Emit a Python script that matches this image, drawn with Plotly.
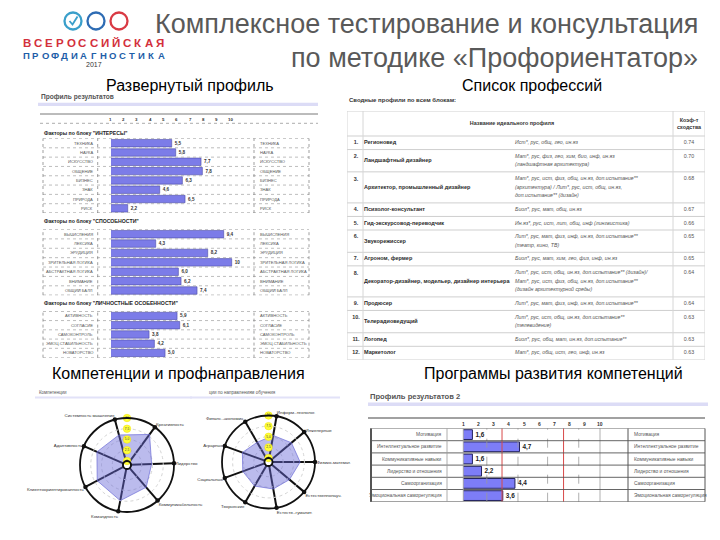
import numpy as np
import plotly.graph_objects as go

# The page body has an 8px margin, so the figure is drawn 712x532 and coordinates
# below are given in window pixels (720x540) and converted.
OFF = 8
W, H = 720 - OFF, 540 - OFF
FONT = "Liberation Sans, Arial, sans-serif"


def X(px):
    return (px - OFF) / W


def Y(py):
    return 1 - (py - OFF) / H


# ---------------- DATA ----------------
interest_labels = ["ТЕХНИКА", "НАУКА", "ИСКУССТВО", "ОБЩЕНИЕ", "БИЗНЕС", "ЗНАК", "ПРИРОДА", "РИСК"]
interest_values = [5.5, 5.8, 7.7, 7.8, 6.3, 4.6, 6.5, 2.2]
ability_labels = ["ВЫЧИСЛЕНИЯ", "ЛЕКСИКА", "ЭРУДИЦИЯ", "ЗРИТЕЛЬНАЯ ЛОГИКА", "АБСТРАКТНАЯ ЛОГИКА", "ВНИМАНИЕ", "ОБЩИЙ БАЛЛ"]
ability_values = [9.4, 4.3, 8.2, 10, 6.0, 6.2, 7.4]
personal_labels = ["АКТИВНОСТЬ", "СОГЛАСИЕ", "САМОКОНТРОЛЬ", "ЭМОЦ.СТАБИЛЬНОСТЬ", "НОВАТОРСТВО"]
personal_values = [5.9, 6.1, 3.8, 4.2, 5.0]
scale_ticks = [1, 2, 3, 4, 5, 6, 7, 8, 9, 10]

prof_nums = ["1.", "2.", "3.", "4.", "5.", "6.", "7.", "8.", "9.", "10.", "11.", "12."]
prof_names = ["Регионовед", "Ландшафтный дизайнер", "Архитектор, промышленный дизайнер",
              "Психолог-консультант", "Гид-экскурсовод-переводчик", "Звукорежиссер",
              "Агроном, фермер", "Декоратор-дизайнер, модельер, дизайнер интерьера",
              "Продюсер", "Телерадиоведущий", "Логопед", "Маркетолог"]
prof_subjects = [
    "Ист*, рус, общ, гео, ин.яз",
    "Мат*, рус, физ, гео, хим, био, инф, ин.яз\n(ландшафтная архитектура)",
    "Мат*, рус, ист, физ, общ, ин.яз, доп.испытание**\n(архитектура) / Лит*, рус, ист, общ, ин.яз,\nдоп.испытание** (дизайн)",
    "Биол*, рус, мат, общ, ин.яз",
    "Ин.яз*, рус, ист, лит, общ, инф (лингвистика)",
    "Лит*, рус, мат, физ, инф, ин.яз, доп.испытание**\n(театр, кино, ТВ)",
    "Биол*, рус, мат, хим, гео, физ, инф, ин.яз",
    "Лит*, рус, ист, общ, ин.яз, доп.испытание** (дизайн)/\nМат*, рус, ист, физ, общ, ин.яз, доп.испытание**\n(дизайн архитектурной среды)",
    "Лит*, рус, мат, физ, инф, ин.яз, доп.испытание**",
    "Лит*, рус, ист, общ, ин.яз, доп.испытание**\n(телевидение)",
    "Биол*, рус, общ, мат, ин.яз, доп.испытание**",
    "Мат*, рус, общ, ист, гео, инф, ин.яз",
]
prof_coefs = [0.74, 0.70, 0.68, 0.67, 0.66, 0.65, 0.65, 0.64, 0.64, 0.63, 0.63, 0.63]

comp_labels = ["Системность мышления", "Креативность", "Лидерство", "Коммуникабельность",
               "Командность", "Клиентоориентированность", "Адаптивность"]
comp_values = [6.3, 7.9, 4.8, 5.9, 7.5, 6.9, 6.7]
dir_labels = ["Информ.-технолог.", "Инженерные", "Физико-математ.", "Естественнонауч.",
              "Естеств.-гуманит.", "Творческие", "Социальные", "Аграрные", "Финанс.-экономич."]
dir_values = [5.4, 6.1, 6.5, 5.5, 5.5, 5.6, 5.5, 5.6, 4.4]
radar_scale_values = [10, 7.5, 5, 2.5, 0]
radar_scale_labels = ["10", "7,5", "5,0", "2,5", "0"]

dev_labels = ["Мотивация", "Интеллектуальное развитие", "Коммуникативные навыки",
              "Лидерство и отношения", "Самоорганизация", "Эмоциональная саморегуляция"]
dev_values = [1.6, 4.7, 1.6, 2.2, 4.4, 3.6]
dev_dashed = [2.55, 4.6, 6.55, 8.6]
dev_red = [3.55, 7.6]
dev_solid = [10]


def fmt(v):
    if float(v).is_integer() and v >= 10:
        return str(int(v))
    return f"{v:.1f}".replace(".", ",")


annotations = []
shapes = []


def ann(x, y, text, size, color="#333", xanchor="center", xref="paper", yref="paper",
        yanchor="middle", xshift=0):
    annotations.append(dict(x=x, y=y, xref=xref, yref=yref, text=text, showarrow=False,
                            xanchor=xanchor, yanchor=yanchor, xshift=xshift,
                            font=dict(family=FONT, size=size, color=color)))


def hline(x0, x1, y, color, width=1, dash="solid", yref="paper"):
    shapes.append(dict(type="line", xref="paper", yref=yref, x0=X(x0), x1=X(x1), y0=y, y1=y,
                       line=dict(color=color, width=width, dash=dash)))


def vline(x, yref, color, width=1, dash="solid", y0=0, y1=1, xref="paper"):
    shapes.append(dict(type="line", xref=xref, yref=yref, x0=x, x1=x, y0=y0, y1=y1,
                       line=dict(color=color, width=width, dash=dash)))


def rect(x0, x1, y0, y1, fill):
    shapes.append(dict(type="rect", xref="paper", yref="paper", x0=X(x0), x1=X(x1),
                       y0=Y(y1), y1=Y(y0), fillcolor=fill, line=dict(width=0), layer="below"))


fig = go.Figure()
axes = {}

# ---------------- Header / logo ----------------
ann(X(700), Y(24), "Комплексное тестирование и консультация", 27, "#595959", "right")
ann(X(700), Y(58), "по методике «Профориентатор»", 27, "#595959", "right")

for cx, col in [(73, "#3a9fca"), (96, "#2e6cb4"), (119, "#d93a44")]:
    shapes.append(dict(type="circle", xref="paper", yref="paper", x0=X(cx - 8.5), x1=X(cx + 8.5),
                       y0=Y(29.5), y1=Y(12.5), line=dict(color=col, width=2.3)))
shapes.append(dict(type="path", xref="paper", yref="paper",
                   path=f"M {X(69.5)},{Y(21)} L {X(72.5)},{Y(24.5)} L {X(77.5)},{Y(16.5)}",
                   line=dict(color="#3a9fca", width=1.8)))
w1 = "ВСЕРОССИЙСКАЯ"
for i, ch in enumerate(w1):
    ann(X(27 + i * (160 - 27) / (len(w1) - 1)), Y(43), f"<b>{ch}</b>", 11.5, "#d3303c")
w2 = "ПРОФДИАГНОСТИКА"
for i, ch in enumerate(w2):
    ann(X(26 + i * (161 - 26) / (len(w2) - 1)), Y(55), f"<b>{ch}</b>", 9.5, "#1d5ea8")
ann(X(94), Y(64), "2017", 7, "#333")

# section headings
ann(X(190), Y(86), "Развернутый профиль", 16, "#000")
ann(X(532), Y(86), "Список профессий", 16, "#000")
ann(X(178), Y(373), "Компетенции и профнаправления", 16, "#000")
ann(X(553), Y(373), "Программы развития компетенций", 16, "#000")

# ---------------- Top-left: Профиль результатов ----------------
ann(X(39), Y(97), "<b>Профиль результатов</b>", 6.6, "#555", "left")
rect(38, 318, 102.7, 106, "#dcdcf6")
hline(40, 318, Y(114), "#555", 0.8)
hline(40, 318, Y(123.3), "#888", 0.7, "dot")

V0, VS = 98.4, 13.33
BX0, BX1 = 111, 254
blocks = [
    dict(labels=interest_labels, values=interest_values, title='Факторы по блоку "ИНТЕРЕСЫ"',
         top=138.5, bottom=213.0, head=132.7),
    dict(labels=ability_labels, values=ability_values, title='Факторы по блоку "СПОСОБНОСТИ"',
         top=229.5, bottom=295.2, head=221.0),
    dict(labels=personal_labels, values=personal_values,
         title='Факторы по блоку "ЛИЧНОСТНЫЕ ОСОБЕННОСТИ"', top=311.3, bottom=357.6, head=303.3),
]
for i, b in enumerate(blocks, start=1):
    sfx = "" if i == 1 else str(i)
    xa, ya = "x" + sfx, "y" + sfx
    n = len(b["labels"])
    fig.add_trace(go.Bar(x=b["values"], y=b["labels"], orientation="h", xaxis=xa, yaxis=ya,
                         marker=dict(color="#7c7ce8", line=dict(color="#4b4ba8", width=0.6)),
                         text=[fmt(v) for v in b["values"]], texttemplate="<b>%{text}</b>",
                         textposition="outside", constraintext="none", cliponaxis=False,
                         textfont=dict(size=4.6, color="#333", family=FONT),
                         width=0.8, hoverinfo="skip"))
    axes["xaxis" + sfx] = dict(domain=[X(BX0), X(BX1)], range=[(BX0 - V0) / VS, (BX1 - V0) / VS],
                               visible=False, anchor=ya, fixedrange=True)
    axes["yaxis" + sfx] = dict(domain=[Y(b["bottom"]), Y(b["top"])], range=[n - 0.5, -0.5],
                               type="category", categoryorder="array", categoryarray=b["labels"],
                               visible=False, anchor=xa, fixedrange=True)
    for k in range(n + 1):
        edge = k in (0, n)
        hline(43, 309, k - 0.5, "#666" if edge else "#a0a0a0", 0.7, "dot", yref=ya)
    for vx in [43, 97.7, 254, 309]:
        vline(X(vx), ya + " domain", "#777", 0.7, "dot")
    for lab in b["labels"]:
        ann(X(95), lab, lab, 4.1, "#555", "right", yref=ya)
        ann(X(257.5), lab, lab, 4.1, "#555", "left", yref=ya)
    ann(X(42), Y(b["head"]), "<b>" + b["title"] + "</b>", 5.2, "#222", "left")

for t in scale_ticks:
    ann(t, Y(119), f"<b>{t}</b>", 4.4, "#333", xref="x", xshift=-1.5)

# ---------------- Top-right: table ----------------
ann(X(347), Y(100), "<b>Сводные профили по всем блокам:</b>", 6, "#333", "left")
TX0, TX1, TY0 = 347, 705, 111
HEAD_H = 25
LINE_H = 8.2
row_lines = [len(s.split("\n")) for s in prof_subjects]
row_h = [4.8 + 8.75 * m for m in row_lines]
total = HEAD_H + sum(row_h)
axes["xaxis5"] = dict(domain=[X(TX0), X(TX1)], range=[0, TX1 - TX0], visible=False,
                      anchor="y5", fixedrange=True)
axes["yaxis5"] = dict(domain=[Y(TY0 + total), Y(TY0)], range=[total, 0], visible=False,
                      anchor="x5", fixedrange=True)
bounds = [0, HEAD_H]
for h in row_h:
    bounds.append(bounds[-1] + h)
for yb in bounds:
    shapes.append(dict(type="line", xref="x5", yref="y5", x0=0, x1=TX1 - TX0, y0=yb, y1=yb,
                       line=dict(color="#cfcfcf", width=1)))
for xv in [0, 16, 326, TX1 - TX0]:
    shapes.append(dict(type="line", xref="x5", yref="y5", x0=xv, x1=xv, y0=0, y1=total,
                       line=dict(color="#d6d6d6", width=1)))

num_y, name_y, sub_x, sub_y, sub_t = [], [], [], [], []
for r in range(len(prof_names)):
    top, h, m = bounds[r + 1], row_h[r], row_lines[r]
    first = top + h / 2 - (m - 1) / 2 * LINE_H
    num_y.append(first)
    name_y.append(top + h / 2)
    for k, line in enumerate(prof_subjects[r].split("\n")):
        sub_y.append(first + k * LINE_H)
        sub_t.append("<i>" + line + "</i>")
        sub_x.append(168)


def text_trace(xs, ys, texts, size, color, pos):
    fig.add_trace(go.Scatter(x=xs, y=ys, text=texts, mode="text", textposition=pos,
                             xaxis="x5", yaxis="y5", cliponaxis=False, hoverinfo="skip",
                             textfont=dict(family=FONT, size=size, color=color)))


text_trace([9] * len(prof_nums), num_y, ["<b>" + s + "</b>" for s in prof_nums], 5.4, "#333",
           "middle center")
text_trace([17] * len(prof_names), name_y, ["<b>" + s + "</b>" for s in prof_names], 5.5,
           "#2a2a2a", "middle right")
text_trace(sub_x, sub_y, sub_t, 5.2, "#555", "middle right")
text_trace([342] * len(prof_coefs), num_y, [f"{c:.2f}" for c in prof_coefs], 5.3, "#555",
           "middle center")
text_trace([165, 342, 342], [12.5, 9.5, 17], ["<b>Название идеального профиля</b>",
                                              "<b>Коэф-т</b>", "<b>сходства</b>"], 5.4, "#333",
           "middle center")

# ---------------- Bottom-left: radars ----------------
ann(X(37), Y(392), "Компетенции", 4.5, "#555", "left")
rect(35, 192, 396.5, 398.5, "#e2e2f8")
ann(X(207), Y(392), "ции по направлениям обучения", 4.5, "#555", "left")
rect(190, 340, 396.5, 398.5, "#e2e2f8")


def radar(name, cx, cy, r, start, labels, values):
    n = len(labels)
    th = [(start + i * 360 / n) % 360 for i in range(n)]
    fig.add_trace(go.Scatterpolar(r=values + values[:1], theta=th + th[:1], subplot=name,
                                  mode="lines", fill="toself", fillcolor="rgba(105,105,215,0.45)",
                                  line=dict(color="rgba(110,110,215,0.9)", width=0.8),
                                  hoverinfo="skip"))
    circ = list(np.linspace(0, 360, 73))
    fig.add_trace(go.Scatterpolar(r=[0] * len(circ), theta=circ, subplot=name, mode="lines",
                                  line=dict(color="#111", width=1.2), hoverinfo="skip"))
    fig.add_trace(go.Scatterpolar(r=[10] * n, theta=th, subplot=name, mode="markers",
                                  marker=dict(color="#111", size=4.5), cliponaxis=False,
                                  hoverinfo="skip"))
    fig.add_trace(go.Scatterpolar(r=radar_scale_values, theta=[0] * len(radar_scale_values),
                                  subplot=name, mode="markers+text", text=radar_scale_labels,
                                  textposition="middle center", cliponaxis=False,
                                  marker=dict(color="#ffff3a", size=7.5,
                                              line=dict(color="#f0e000", width=0.5)),
                                  textfont=dict(family=FONT, size=3.2, color="#333"),
                                  hoverinfo="skip"))
    return dict(
        domain=dict(x=[X(cx - r), X(cx + r)], y=[Y(cy + r), Y(cy - r)]),
        hole=4 / r, bgcolor="white",
        angularaxis=dict(type="linear", thetaunit="degrees", rotation=90, direction="clockwise",
                         tickmode="array", tickvals=th, ticktext=labels, ticks="",
                         tickfont=dict(family=FONT, size=4.4, color="#333"),
                         showline=True, linecolor="#111", linewidth=1.8,
                         showgrid=True, gridcolor="#111", gridwidth=1.6),
        radialaxis=dict(range=[0, 10], showticklabels=False, ticks="", showline=False,
                        tickvals=[2.5, 5, 7.5], gridcolor="#d4d4d4", griddash="dot",
                        gridwidth=0.7),
    )


polar1 = radar("polar", 127, 465, 47, -15, comp_labels, comp_values)
polar2 = radar("polar2", 268.5, 462, 46.5, 10, dir_labels, dir_values)

# ---------------- Bottom-right: Профиль результатов 2 ----------------
ann(X(368), Y(396), "<b>Профиль результатов 2</b>", 7.6, "#555", "left")
rect(368, 708, 402.5, 406, "#dcdcf6")
DX0, DX1, DS = 463.3, 628, 15.19
DTOP, DBOT = 428.5, 501.7
axes["xaxis4"] = dict(domain=[X(DX0), X(DX1)], range=[1, 1 + (DX1 - DX0) / DS], visible=False,
                      anchor="y4", fixedrange=True)
n4 = len(dev_labels)
axes["yaxis4"] = dict(domain=[Y(DBOT), Y(DTOP)], range=[n4 - 0.5, -0.5], type="category",
                      categoryorder="array", categoryarray=dev_labels, visible=False,
                      anchor="x4", fixedrange=True)
for v in dev_dashed:
    vline(v, "y4 domain", "#9a9a9a", 0.8, "dash", xref="x4")
for v in dev_red:
    vline(v, "y4 domain", "#d84a4a", 1, "solid", xref="x4")
for v in dev_solid:
    vline(v, "y4 domain", "#b0b0b0", 1, "solid", xref="x4")
fig.add_trace(go.Bar(x=dev_values, y=dev_labels, orientation="h", xaxis="x4", yaxis="y4",
                     marker=dict(color="#7d7df7", line=dict(color="#23235e", width=1)),
                     text=[fmt(v) for v in dev_values], texttemplate="<b>%{text}</b>",
                     textposition="outside", constraintext="none", cliponaxis=False,
                     textfont=dict(size=6.4, color="#222", family=FONT),
                     width=0.8, hoverinfo="skip"))
hline(368, 705, Y(418), "#444", 1.2)
for k in range(n4 + 1):
    hline(370, 705, k - 0.5, "#555", 0.9, yref="y4")
for vx, col, wd in [(371, "#555", 2), (447, "#9a9a9a", 0.8), (DX0, "#9a9a9a", 0.8),
                    (628, "#555", 1), (705, "#555", 1)]:
    vline(X(vx), "y4 domain", col, wd)
for t in scale_ticks:
    ann(t, Y(423.5), f"<b>{t}</b>", 5, "#333", xref="x4")
for lab in dev_labels:
    ann(X(444), lab, lab, 4.9, "#555", "right", yref="y4")
    ann(X(632), lab, lab, 4.9, "#555", "left", yref="y4")

fig.update_layout(
    width=W, height=H, autosize=False, margin=dict(l=0, r=0, t=0, b=0),
    paper_bgcolor="white", plot_bgcolor="rgba(0,0,0,0)", showlegend=False,
    font=dict(family=FONT), annotations=annotations, shapes=shapes,
    polar=polar1, polar2=polar2, **axes,
)

fig.write_html("out.html")
